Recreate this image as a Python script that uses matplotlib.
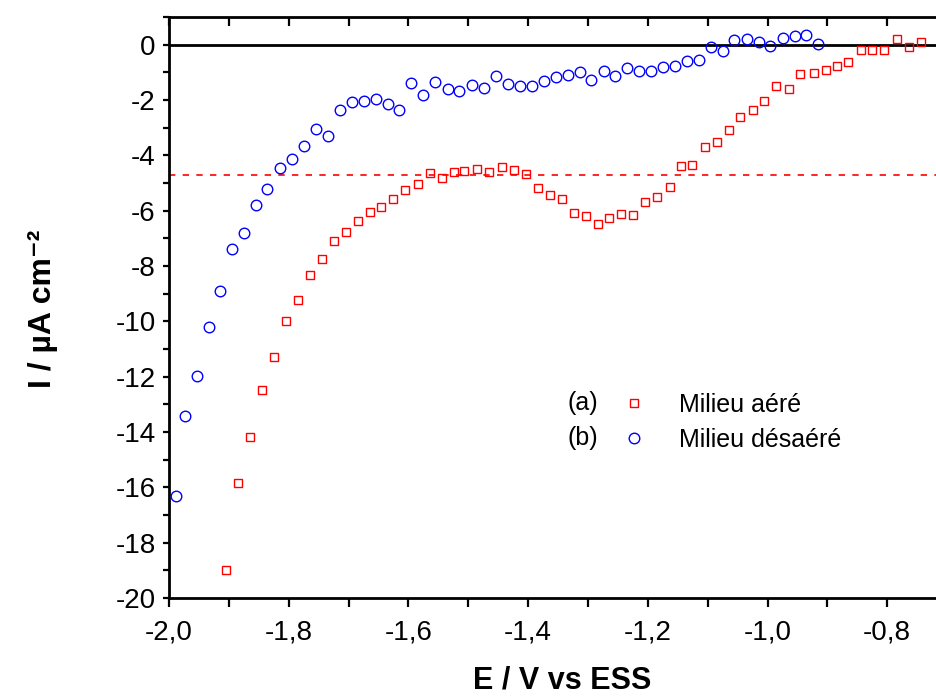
import numpy as np
import matplotlib
matplotlib.use("Agg")
import matplotlib.pyplot as plt
from matplotlib.ticker import MultipleLocator, FuncFormatter

#------------------------------------------------------------------------------#

# Data
# (a) Milieu aere : red squares
E_aere = [-1.904, -1.884, -1.865, -1.844, -1.825, -1.805, -1.784, -1.764,
          -1.744, -1.724, -1.705, -1.685, -1.664, -1.646, -1.625, -1.605,
          -1.584, -1.564, -1.544, -1.524, -1.507, -1.485, -1.465, -1.444,
          -1.423, -1.404, -1.384, -1.363, -1.343, -1.323, -1.304, -1.283,
          -1.264, -1.244, -1.224, -1.204, -1.184, -1.163, -1.145, -1.126,
          -1.105, -1.085, -1.064, -1.046, -1.024, -1.006, -0.985, -0.964,
          -0.946, -0.923, -0.903, -0.884, -0.865, -0.844, -0.825, -0.805,
          -0.783, -0.763, -0.744]
I_aere = [-18.99, -15.83, -14.19, -12.49, -11.28, -9.99, -9.24, -8.32,
          -7.73, -7.09, -6.76, -6.39, -6.05, -5.86, -5.57, -5.24,
          -5.04, -4.64, -4.81, -4.60, -4.58, -4.49, -4.60, -4.43,
          -4.54, -4.66, -5.18, -5.45, -5.59, -6.09, -6.18, -6.47,
          -6.27, -6.13, -6.15, -5.68, -5.50, -5.13, -4.40, -4.35,
          -3.71, -3.53, -3.07, -2.60, -2.36, -2.03, -1.49, -1.62,
          -1.06, -1.01, -0.93, -0.76, -0.64, -0.18, -0.19, -0.19,
          0.21, -0.08, 0.08]

# (b) Milieu desaere : blue circles
E_desaere = [-1.989, -1.973, -1.953, -1.933, -1.914, -1.894, -1.874, -1.854,
             -1.836, -1.815, -1.794, -1.774, -1.755, -1.734, -1.714, -1.695,
             -1.675, -1.654, -1.634, -1.615, -1.595, -1.575, -1.555, -1.534,
             -1.515, -1.494, -1.473, -1.454, -1.434, -1.413, -1.393, -1.374,
             -1.354, -1.334, -1.314, -1.295, -1.274, -1.255, -1.234, -1.214,
             -1.195, -1.174, -1.155, -1.134, -1.115, -1.095, -1.074, -1.056,
             -1.034, -1.014, -0.995, -0.974, -0.954, -0.935, -0.915]
I_desaere = [-16.33, -13.43, -11.98, -10.22, -8.90, -7.38, -6.80, -5.80,
             -5.21, -4.46, -4.13, -3.65, -3.06, -3.30, -2.36, -2.08,
             -2.03, -1.96, -2.16, -2.37, -1.39, -1.82, -1.36, -1.62,
             -1.69, -1.47, -1.58, -1.12, -1.43, -1.50, -1.49, -1.33,
             -1.17, -1.11, -0.99, -1.27, -0.95, -1.14, -0.85, -0.94,
             -0.94, -0.82, -0.76, -0.58, -0.54, -0.08, -0.24, 0.18,
             0.21, 0.08, -0.06, 0.25, 0.30, 0.36, 0.04]

I_ref = -4.7   # dashed reference level

labels = ["Milieu aéré", "Milieu désaéré"]
tags   = ["(a)", "(b)"]

#------------------------------------------------------------------------------#

# Visualization
plt.rcParams["font.family"]        = ["Liberation Sans", "DejaVu Sans"]
plt.rcParams["axes.unicode_minus"] = False

fig = plt.figure(figsize=(9.36, 7.0), dpi=100)
ax  = fig.add_axes([169/936, 102/700, 767/936, 581/700])

ax.axhline(0.0, color="black", lw=2.0, zorder=1)
ax.axhline(I_ref, color="red", lw=1.2, ls=(0, (3.8, 4.4)), zorder=1)

hA, = ax.plot(E_aere, I_aere, ls="none", marker="s", ms=5.8, mfc="none",
              mec="#ff0000", mew=1.0, zorder=3)
hB, = ax.plot(E_desaere, I_desaere, ls="none", marker="o", ms=7.6, mfc="none",
              mec="#0000ff", mew=1.0, zorder=3)

ax.set_xlim(-2.0, -2.0 + 767/598.5)
ax.set_ylim(-20.0, 1.0)

ax.xaxis.set_major_locator(MultipleLocator(0.2))
ax.xaxis.set_minor_locator(MultipleLocator(0.1))
ax.yaxis.set_major_locator(MultipleLocator(2))
ax.yaxis.set_minor_locator(MultipleLocator(1))
ax.xaxis.set_major_formatter(FuncFormatter(lambda v, p: f"{v:.1f}".replace(".", ",")))
ax.yaxis.set_major_formatter(FuncFormatter(lambda v, p: f"{int(round(v))}"))

for side in ["left", "bottom", "top"]:
    ax.spines[side].set_linewidth(2.0)
ax.spines["right"].set_visible(False)

ax.tick_params(axis="both", which="both", labelsize=20, width=1.6)
ax.tick_params(axis="y", which="both", direction="out", length=4.5, pad=5, right=False)
ax.tick_params(axis="x", which="both", direction="out", length=6.5, pad=9, top=True)
# top ticks point inward
for tick in ax.xaxis.get_major_ticks() + ax.xaxis.get_minor_ticks():
    tick.tick2line.set_marker(3)

ax.set_xlabel("E / V vs ESS", fontsize=22, fontweight="bold")
ax.set_ylabel("I / µA cm⁻²", fontsize=23, fontweight="bold")
ax.xaxis.set_label_coords(0.512, -0.116)
ax.yaxis.set_label_coords(-0.145, 0.497)

leg = ax.legend([hA, hB], labels, loc="center left",
                bbox_to_anchor=(0.590, 0.302), frameon=False, fontsize=18,
                numpoints=1, handlelength=1.0, handletextpad=1.3,
                borderpad=0.0, borderaxespad=0.0, labelspacing=0.44)

for iTag, tag in enumerate(tags):
    ax.text(0.519, [0.336, 0.275][iTag], tag, transform=ax.transAxes,
            fontsize=18, ha="left", va="center")

fig.savefig("out.png", dpi=100)
